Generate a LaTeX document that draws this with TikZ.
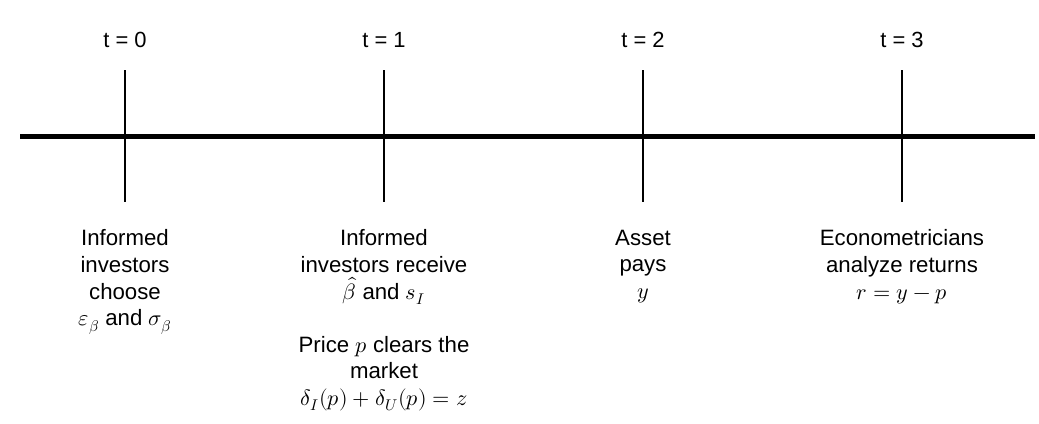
\documentclass[tikz,border=0pt]{standalone}
\usepackage{fontspec}
\usepackage{unicode-math}
\setmainfont{Liberation Sans}
\setmathfont{Latin Modern Math}
\usetikzlibrary{positioning}
\tikzset{
  every picture/.append style={x=0.025cm,y=-0.025cm},
  timeline/.style={draw=black,line width=3.3pt},
  tickmark/.style={draw=black,line width=2.1pt},
  timelabel/.style={anchor=base,inner sep=0pt,font=\fontsize{15.6}{18.9}\selectfont},
  eventtext/.style={anchor=north,inner sep=0pt,align=center,font=\fontsize{15.8}{18.9}\selectfont},
}

\begin{document}
\begin{tikzpicture}
  \useasboundingbox (0,0) rectangle (1039,423);
  \coordinate (lineL) at (20,136.5);
  \coordinate (lineR) at (1035,136.5);
  \draw[timeline] (lineL) -- (lineR);
  \draw[tickmark] (125,70) -- (125,202);
  \draw[tickmark] (384,70) -- (384,202);
  \draw[tickmark] (643,70) -- (643,202);
  \draw[tickmark] (902,70) -- (902,202);
  \node[timelabel] (t0) at (125,47.7) {t = 0};
  \node[timelabel] (t1) at (384,47.7) {t = 1};
  \node[timelabel] (t2) at (643,47.7) {t = 2};
  \node[timelabel] (t3) at (902,47.7) {t = 3};
  \node[eventtext] (ev0) at (125,229.5) {Informed\\investors\\choose\\$\varepsilon_\beta$ and $\sigma_\beta$};
  \node[eventtext] (ev1) at (384,229.5) {Informed\\investors receive\\$\hat{\beta}$ and $s_I$\\[18.9pt]Price $p$ clears the\\market\\$\delta_I(p)+\delta_U(p)=z$};
  \node[eventtext] (ev2) at (643,229.5) {Asset\\pays\\$y$};
  \node[eventtext] (ev3) at (902,229.5) {Econometricians\\analyze returns\\$r=y-p$};
\end{tikzpicture}
\end{document}
